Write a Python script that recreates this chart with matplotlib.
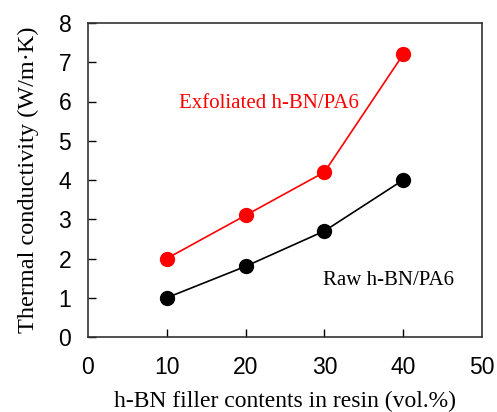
import matplotlib
matplotlib.use("Agg")
import matplotlib.pyplot as plt

filler = [10, 20, 30, 40]
exfoliated = [2.0, 3.1, 4.2, 7.2]
raw = [1.0, 1.8, 2.7, 4.0]
xticks = [0, 10, 20, 30, 40, 50]
yticks = [0, 1, 2, 3, 4, 5, 6, 7, 8]

fig = plt.figure(figsize=(4.97, 4.12), dpi=100)
ax = fig.add_axes([88/497, 1-337/412, (482-88)/497, (337-23)/412])

ax.plot(filler, exfoliated, color='#ff0000', marker='o', markersize=10, lw=1.2)
ax.plot(filler, raw, color='black', marker='o', markersize=10, lw=1.2)

ax.set_xlim(0, 50)
ax.set_ylim(0, 8)
ax.set_xticks(xticks)
ax.set_yticks(yticks)
ax.tick_params(direction='in', length=6, width=1, labelsize=16.5)
ax.tick_params(axis='x', pad=14)
ax.tick_params(axis='y', pad=12)
for lab in ax.get_xticklabels() + ax.get_yticklabels():
    lab.set_family('Liberation Sans')
xt = ax.xaxis.get_major_ticks()
xt[0].tick1line.set_visible(False)
xt[-1].tick1line.set_visible(False)
for s in ax.spines.values():
    s.set_linewidth(1.2)
    s.set_color('#333333')

ax.set_xlabel('h-BN filler contents in resin (vol.%)', family='Liberation Serif', fontsize=17, labelpad=8)
ax.set_ylabel('Thermal conductivity (W/m·K)', family='Liberation Serif', fontsize=17.5, labelpad=14)

ax.text(23.0, 5.96, 'Exfoliated h-BN/PA6', color='#ff0000', family='Liberation Serif', fontsize=15, ha='center', va='center')
ax.text(38.1, 1.45, 'Raw h-BN/PA6', color='black', family='Liberation Serif', fontsize=15, ha='center', va='center')

fig.savefig('out.png', dpi=100)
